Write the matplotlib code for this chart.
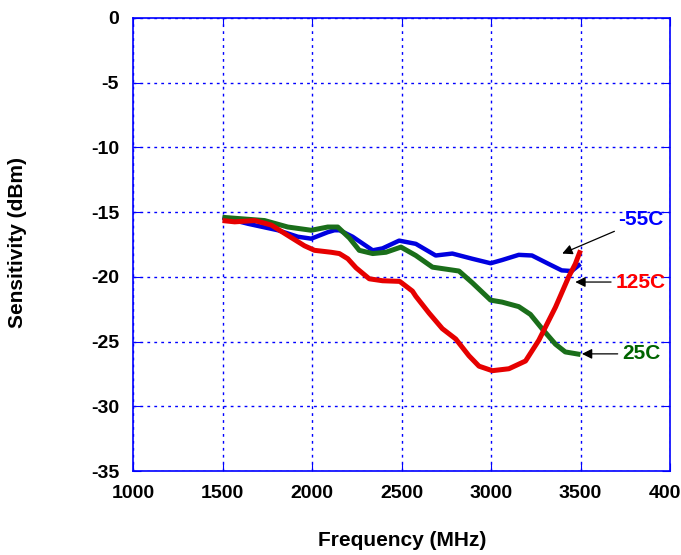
import numpy as np
import matplotlib
matplotlib.use("Agg")
import matplotlib.pyplot as plt

plt.rcParams['font.family'] = ['Liberation Sans', 'DejaVu Sans']
plt.rcParams['font.weight'] = 'bold'
plt.rcParams['axes.unicode_minus'] = False

# -55C
freq_m55 = [1500, 1643, 1810, 1921, 1996, 2088, 2125, 2154, 2227, 2339, 2394, 2487, 2580,
            2691, 2784, 2895, 2998, 3062, 3155, 3229, 3322, 3395, 3451, 3500]
sens_m55 = [-15.4, -15.9, -16.4, -16.9, -17.05, -16.55, -16.4, -16.4, -16.9, -17.95, -17.8, -17.2, -17.45,
            -18.35, -18.2, -18.6, -18.95, -18.7, -18.3, -18.35, -19.0, -19.5, -19.55, -19.0]

# 25C
freq_25 = [1500, 1735, 1865, 1996, 2088, 2144, 2209, 2264, 2339, 2413, 2497, 2580, 2673,
           2747, 2821, 2895, 2998, 3062, 3155, 3220, 3285, 3360, 3415, 3500]
sens_25 = [-15.4, -15.65, -16.15, -16.4, -16.15, -16.15, -17.0, -17.95, -18.2, -18.1, -17.7, -18.35, -19.25,
           -19.4, -19.55, -20.45, -21.8, -21.95, -22.3, -22.9, -24.0, -25.2, -25.8, -26.0]

# 125C
freq_125 = [1500, 1568, 1680, 1773, 1865, 1958, 2014, 2107, 2153, 2200, 2246, 2320, 2394, 2490,
            2561, 2580, 2654, 2728, 2803, 2877, 2933, 3007, 3100, 3193, 3267, 3360, 3434, 3471, 3500]
sens_125 = [-15.65, -15.75, -15.65, -16.0, -16.8, -17.6, -17.95, -18.1, -18.2, -18.6, -19.3, -20.15, -20.3, -20.35,
            -21.1, -21.5, -22.8, -24.0, -24.8, -26.1, -26.9, -27.25, -27.1, -26.5, -24.9, -22.35, -20.0, -19.0, -17.95]

labels = ['-55C', '125C', '25C']
label_pos = [(3712, -15.6), (3694, -20.4), (3731, -25.95)]
arrow_tip = [(3398, -18.2), (3471, -20.4), (3508, -25.95)]
label_colors = ['#0000ff', '#ff0000', '#006400']

fig = plt.figure(figsize=(6.81, 5.55), dpi=100)
ax = fig.add_axes([133 / 681, 1 - 471 / 555, 537 / 681, 453 / 555])

ax.plot(freq_m55, sens_m55, color='#0000e0', lw=3.2, solid_joinstyle='round', solid_capstyle='butt')
ax.plot(freq_25, sens_25, color='#1a6e1a', lw=3.6, solid_joinstyle='round', solid_capstyle='butt')
ax.plot(freq_125, sens_125, color='#e60000', lw=3.6, solid_joinstyle='round', solid_capstyle='butt')

for lab, pos, tip, c in zip(labels, label_pos, arrow_tip, label_colors):
    ax.annotate(lab, xy=tip, xytext=pos, color=c, fontsize=15, fontweight='bold',
                ha='left', va='center', annotation_clip=False,
                arrowprops=dict(arrowstyle='-|>', color='black', lw=0.9,
                                mutation_scale=15, shrinkA=1, shrinkB=0))

ax.set_xlim(1000, 4000)
ax.set_ylim(-35, 0)
ax.set_xticks(np.arange(1000, 4001, 500))
ax.set_yticks(np.arange(-35, 1, 5))
ax.grid(True, color='#0000ff', linestyle=(0, (2, 3)), lw=1.0)
for s in ax.spines.values():
    s.set_color('#0000ff')
    s.set_linewidth(1.2)
ax.tick_params(direction='in', length=6, color='#0000ff', top=True, right=True,
               labelsize=14, pad=10)
for t in ax.get_xticklabels() + ax.get_yticklabels():
    t.set_fontweight('bold')

ax.set_xlabel('Frequency (MHz)', fontsize=15, fontweight='bold', va='center')
ax.set_ylabel('Sensitivity (dBm)', fontsize=15, fontweight='bold', va='center')
ax.xaxis.set_label_coords((402 - 133) / 537, (471 - 540) / 453)
ax.yaxis.set_label_coords((18 - 133) / 537, (471 - 243) / 453)

fig.savefig('out.png', dpi=100)
